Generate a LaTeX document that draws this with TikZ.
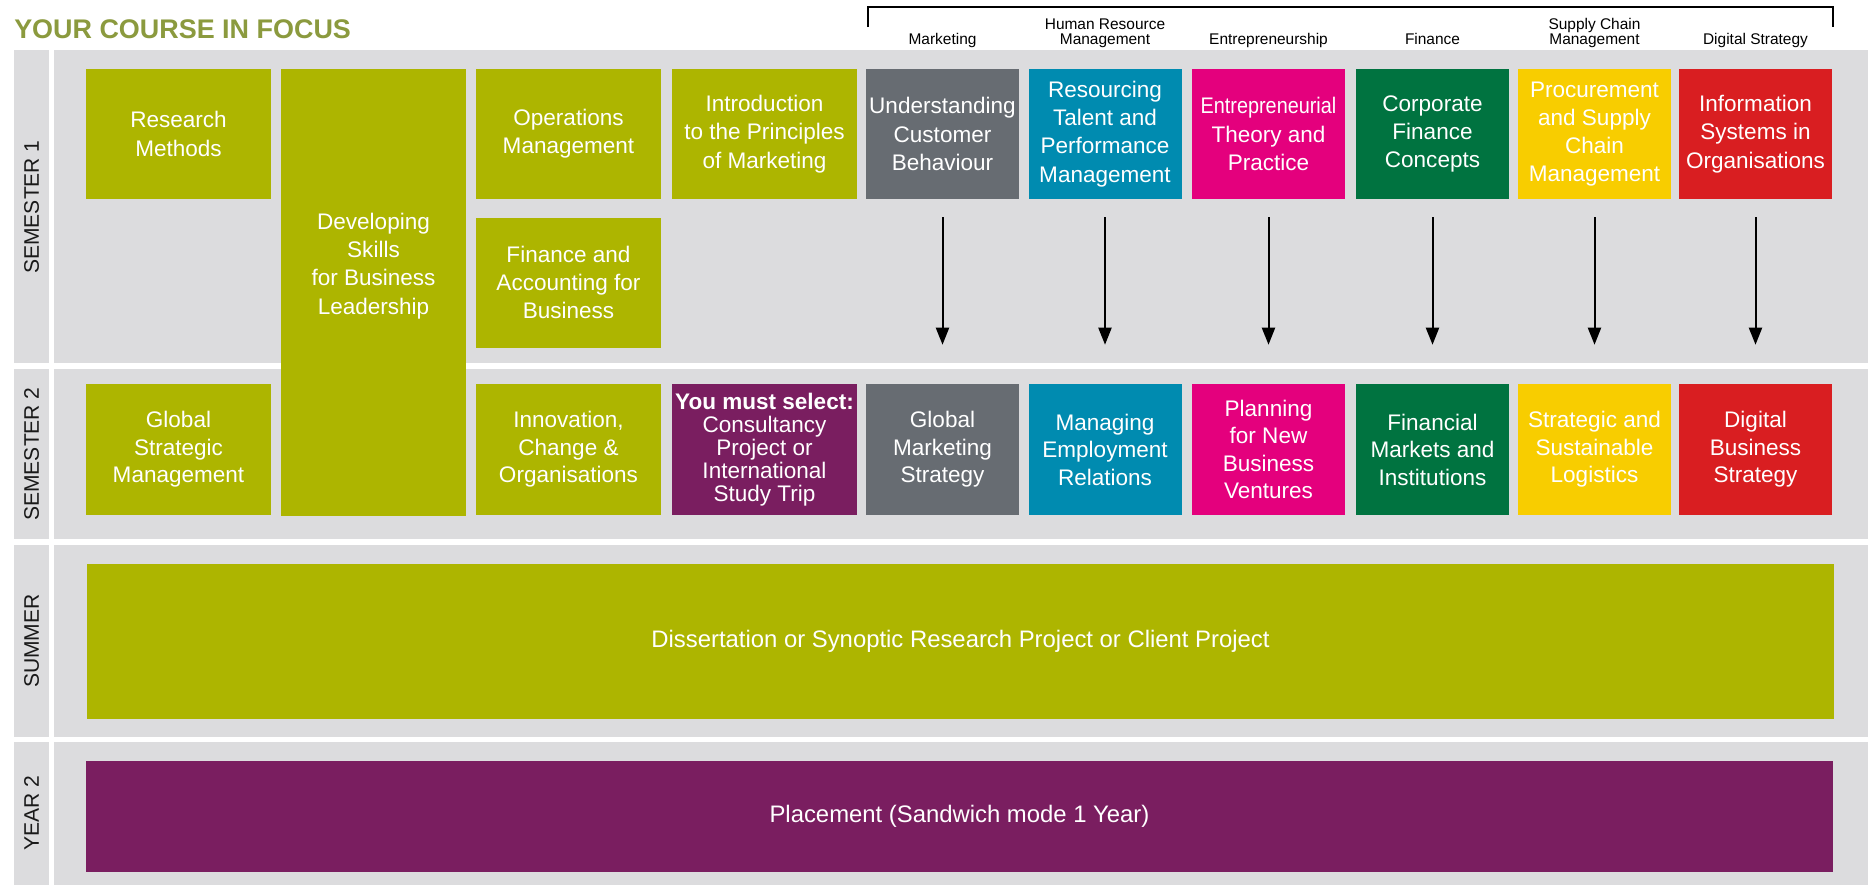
\documentclass[tikz,border=0pt]{standalone}
\usepackage{fontspec}
\usepackage{graphicx}
\setmainfont{Liberation Sans}
\usetikzlibrary{arrows.meta}
\definecolor{panelgray}{RGB}{220,220,222}
\definecolor{olivebox}{RGB}{173,181,0}
\definecolor{titleolive}{RGB}{139,154,62}
\definecolor{graymod}{RGB}{103,108,114}
\definecolor{bluemod}{RGB}{0,139,176}
\definecolor{magmod}{RGB}{228,0,125}
\definecolor{greenmod}{RGB}{0,115,64}
\definecolor{yellowmod}{RGB}{248,205,0}
\definecolor{redmod}{RGB}{217,30,33}
\definecolor{purplemod}{RGB}{122,30,96}
\newcommand\boxfnt{\fontsize{16.9}{21.2}\selectfont}
\newcommand\boxfntb{\fontsize{16.9}{20.6}\selectfont}
\newcommand\selfnt{\fontsize{16.9}{17.3}\selectfont}
\newcommand\widefnt{\fontsize{17.9}{21.4}\selectfont}
\newcommand\trackfnt{\fontsize{11.6}{11.6}\selectfont}
\newcommand\semfnt{\fontsize{15.8}{18}\selectfont}
\newcommand\titlefnt{\fontsize{20.2}{24}\selectfont\bfseries}
\begin{document}
\begin{tikzpicture}[x=0.75pt,y=-0.75pt,
  panel/.style={fill=panelgray,draw=none},
  mod/.style={rectangle,inner sep=0pt,draw=none,text=white,align=center,font=\boxfnt},
  wl/.style={minimum width=138.75pt},
  wr/.style={minimum width=114.75pt},
  hs/.style={minimum height=97.5pt},
  ht/.style={minimum height=98.25pt,font=\boxfntb},
  track/.style={inner sep=0pt,font=\trackfnt,text=black,anchor=base},
  semlabel/.style={inner sep=0pt,font=\semfnt,text=black!90,rotate=90},
  arr/.style={line width=1.5pt,-{Triangle[length=12.75pt,width=9.75pt]},shorten <=13.5pt,shorten >=29.25pt}
]
\useasboundingbox (0,0) rectangle (1868,885);
\fill[white] (0,0) rectangle (1868,885);

% title
\node[anchor=base west,font=\titlefnt,text=titleolive,inner sep=0pt] (title) at (14,38) {YOUR COURSE IN FOCUS};

% bracket and track labels
\draw[line width=1.2pt] (868,27) -- (868,7) -- (1833,7) -- (1833,27);
\node[track] (tmk) at (942.5,45) {Marketing};
\node[track] (thr) at (1105,45) {\begin{tabular}[b]{@{}c@{}}Human Resource\\Management\end{tabular}};
\node[track] (ten) at (1268.5,45) {Entrepreneurship};
\node[track] (tfi) at (1432.5,45) {Finance};
\node[track] (tsc) at (1594.5,45) {\begin{tabular}[b]{@{}c@{}}Supply Chain\\Management\end{tabular}};
\node[track] (tds) at (1755.5,45) {Digital Strategy};

% panels
\fill[panel] (14,50) rectangle (49,363);
\fill[panel] (54,50) rectangle (1868,363);
\fill[panel] (14,369) rectangle (49,539);
\fill[panel] (54,369) rectangle (1868,539);
\fill[panel] (14,545) rectangle (49,737);
\fill[panel] (54,545) rectangle (1868,737);
\fill[panel] (14,742) rectangle (49,885);
\fill[panel] (54,742) rectangle (1868,885);

\node[semlabel] (lsem1) at (31.5,207) {SEMESTER 1};
\node[semlabel] (lsem2) at (31.5,454) {SEMESTER 2};
\node[semlabel] (lsum) at (31.5,641) {SUMMER};
\node[semlabel] (lyr2) at (31.5,813.5) {YEAR 2};

% semester 1
\node[mod,wl,hs,fill=olivebox] (rm) at (178.5,134) {Research\\Methods};
\node[mod,wl,minimum height=335.25pt,fill=olivebox] (dev) at (373.5,292.5) {};
\node[mod] (devtext) at (373.5,266) {Developing\\Skills\\for Business\\Leadership};
\node[mod,wl,hs,fill=olivebox] (om) at (568.5,134) {Operations\\Management};
\node[mod,wl,hs,fill=olivebox] (ipm) at (764.5,134) {Introduction\\to the Principles\\of Marketing};
\node[mod,wl,hs,fill=olivebox] (fab) at (568.5,282.5) {Finance and\\Accounting for\\Business};
\node[mod,wr,hs,fill=graymod] (ucb) at (942.5,134) {Understanding\\Customer\\Behaviour};
\node[mod,wr,hs,fill=bluemod] (rtp) at (1105,134) {Resourcing\\Talent and\\Performance\\Management};
\node[mod,wr,hs,fill=magmod] (etp) at (1268.5,134) {\scalebox{0.88}[1]{Entrepreneurial}\\Theory and\\Practice};
\node[mod,wr,hs,fill=greenmod] (cfc) at (1432.5,134) {Corporate\\Finance\\Concepts};
\node[mod,wr,hs,fill=yellowmod] (psc) at (1594.5,134) {Procurement\\and Supply\\Chain\\Management};
\node[mod,wr,hs,fill=redmod] (iso) at (1755.5,134) {Information\\Systems in\\Organisations};

% semester 2
\node[mod,wl,ht,fill=olivebox] (gsm) at (178.5,449.5) {Global\\Strategic\\Management};
\node[mod,wl,ht,fill=olivebox] (ico) at (568.5,449.5) {Innovation,\\Change \&\\Organisations};
\node[mod,wl,ht,fill=purplemod,font=\selfnt] (sel) at (764.5,449.5) {\textbf{You must select:}\\Consultancy\\Project or\\International\\Study Trip};
\node[mod,wr,ht,fill=graymod] (gms) at (942.5,449.5) {Global\\Marketing\\Strategy};
\node[mod,wr,ht,fill=bluemod] (mer) at (1105,449.5) {Managing\\Employment\\Relations};
\node[mod,wr,ht,fill=magmod] (pnb) at (1268.5,449.5) {Planning\\for New\\Business\\Ventures};
\node[mod,wr,ht,fill=greenmod] (fmi) at (1432.5,449.5) {Financial\\Markets and\\Institutions};
\node[mod,wr,ht,fill=yellowmod] (ssl) at (1594.5,449.5) {Strategic and\\Sustainable\\Logistics};
\node[mod,wr,ht,fill=redmod] (dbs) at (1755.5,449.5) {Digital\\Business\\Strategy};

% summer and year 2
\node[mod,minimum width=1310.25pt,minimum height=116.25pt,fill=olivebox,font=\widefnt] (dis) at (960.5,641.5) {Dissertation or Synoptic Research Project or Client Project};
\node[mod,minimum width=1310.25pt,minimum height=83.25pt,fill=purplemod,font=\widefnt] (plc) at (959.5,816.5) {Placement (Sandwich mode 1 Year)};

% arrows
\draw[arr] (ucb.south) -- (gms.north);
\draw[arr] (rtp.south) -- (mer.north);
\draw[arr] (etp.south) -- (pnb.north);
\draw[arr] (cfc.south) -- (fmi.north);
\draw[arr] (psc.south) -- (ssl.north);
\draw[arr] (iso.south) -- (dbs.north);
\end{tikzpicture}
\end{document}
